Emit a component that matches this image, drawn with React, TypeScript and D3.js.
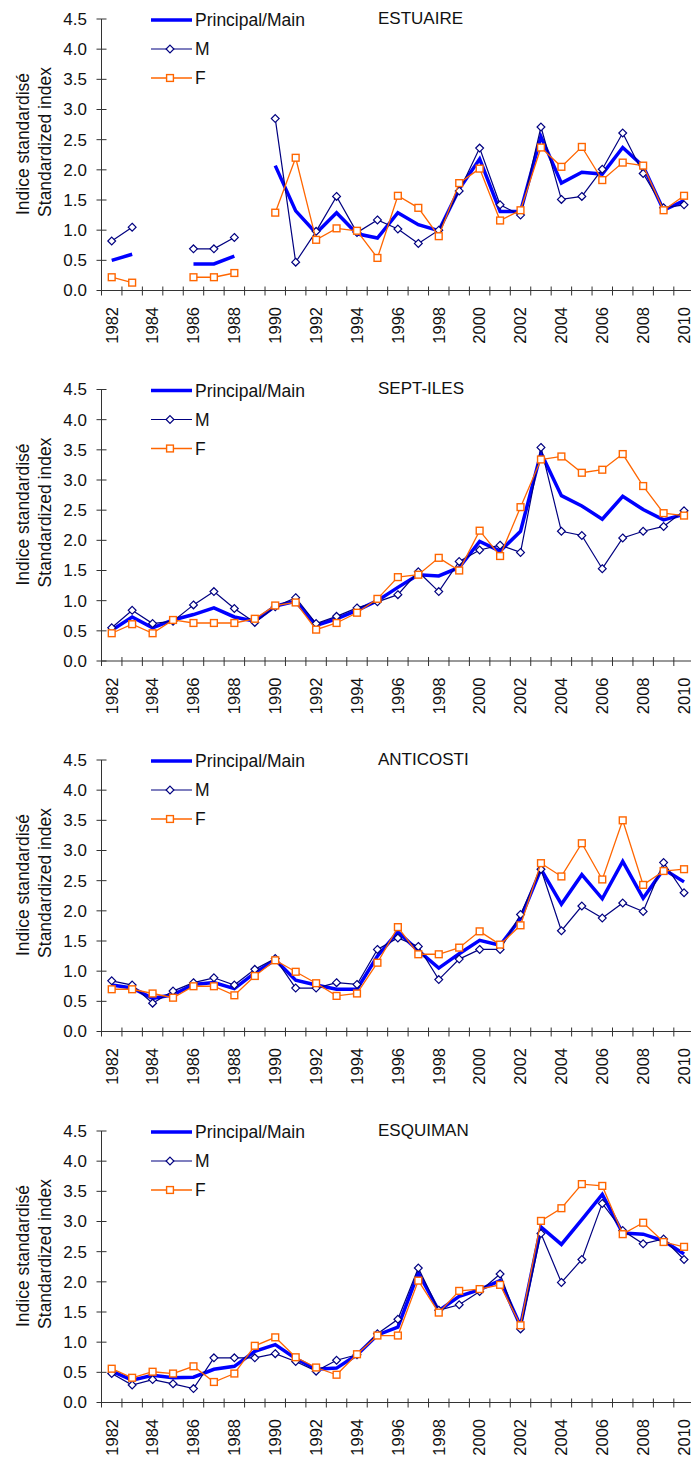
import React from "react";
import * as d3 from "d3";

const years = [1982, 1983, 1984, 1985, 1986, 1987, 1988, 1989, 1990, 1991, 1992, 1993, 1994, 1995, 1996, 1997, 1998, 1999, 2000, 2001, 2002, 2003, 2004, 2005, 2006, 2007, 2008, 2009, 2010];
const yTicks = [0, 0.5, 1.0, 1.5, 2.0, 2.5, 3.0, 3.5, 4.0, 4.5];
const xLabelYears = [1982, 1984, 1986, 1988, 1990, 1992, 1994, 1996, 1998, 2000, 2002, 2004, 2006, 2008, 2010];
const legendLabels = ["Principal/Main", "M", "F"];
const yTitle = ["Indice standardisé", "Standardized index"];

type V = number | null;

// ESTUAIRE
const estMain: V[] = [0.50, 0.60, null, null, 0.44, 0.44, 0.57, null, 2.07, 1.32, 0.95, 1.29, 0.94, 0.87, 1.29, 1.09, 0.99, 1.68, 2.18, 1.31, 1.31, 2.55, 1.78, 1.96, 1.93, 2.37, 2.06, 1.33, 1.49];
const estM: V[] = [0.82, 1.05, null, null, 0.69, 0.69, 0.88, null, 2.85, 0.47, 0.98, 1.56, 0.96, 1.17, 1.02, 0.78, 1.00, 1.65, 2.36, 1.42, 1.25, 2.71, 1.51, 1.56, 2.01, 2.61, 1.94, 1.37, 1.42];
const estF: V[] = [0.22, 0.13, null, null, 0.22, 0.22, 0.29, null, 1.29, 2.20, 0.84, 1.03, 0.99, 0.54, 1.57, 1.37, 0.90, 1.78, 2.02, 1.16, 1.33, 2.37, 2.05, 2.38, 1.83, 2.12, 2.07, 1.33, 1.57];

// SEPT-ILES
const sepMain: V[] = [0.51, 0.73, 0.55, 0.68, 0.77, 0.88, 0.73, 0.66, 0.91, 0.99, 0.59, 0.70, 0.84, 1.00, 1.22, 1.43, 1.41, 1.55, 1.98, 1.82, 2.15, 3.45, 2.74, 2.57, 2.35, 2.73, 2.51, 2.34, 2.43];
const sepM: V[] = [0.55, 0.84, 0.62, 0.66, 0.93, 1.15, 0.87, 0.64, 0.90, 1.05, 0.62, 0.74, 0.88, 0.98, 1.10, 1.48, 1.15, 1.65, 1.84, 1.92, 1.80, 3.54, 2.15, 2.08, 1.53, 2.04, 2.15, 2.23, 2.49];
const sepF: V[] = [0.46, 0.61, 0.46, 0.68, 0.63, 0.63, 0.63, 0.70, 0.92, 0.97, 0.52, 0.63, 0.80, 1.03, 1.39, 1.43, 1.71, 1.50, 2.16, 1.74, 2.55, 3.34, 3.39, 3.12, 3.17, 3.43, 2.90, 2.45, 2.41];

// ANTICOSTI
const antMain: V[] = [0.77, 0.72, 0.55, 0.61, 0.78, 0.81, 0.71, 0.97, 1.19, 0.85, 0.77, 0.70, 0.70, 1.25, 1.65, 1.34, 1.05, 1.29, 1.51, 1.43, 1.87, 2.69, 2.11, 2.60, 2.20, 2.82, 2.21, 2.69, 2.48];
const antM: V[] = [0.84, 0.77, 0.47, 0.67, 0.81, 0.89, 0.77, 1.03, 1.21, 0.72, 0.72, 0.81, 0.78, 1.36, 1.55, 1.41, 0.86, 1.20, 1.36, 1.36, 1.94, 2.69, 1.67, 2.08, 1.88, 2.13, 1.99, 2.80, 2.30];
const antF: V[] = [0.70, 0.70, 0.63, 0.56, 0.75, 0.75, 0.60, 0.92, 1.18, 0.99, 0.80, 0.59, 0.63, 1.14, 1.73, 1.28, 1.28, 1.39, 1.66, 1.44, 1.76, 2.79, 2.57, 3.12, 2.52, 3.50, 2.43, 2.66, 2.69];

// ESQUIMAN
const esqMain: V[] = [0.52, 0.37, 0.45, 0.41, 0.42, 0.55, 0.60, 0.85, 0.96, 0.73, 0.55, 0.57, 0.79, 1.12, 1.25, 2.15, 1.52, 1.76, 1.87, 2.02, 1.27, 2.91, 2.62, 3.03, 3.45, 2.81, 2.79, 2.68, 2.46];
const esqM: V[] = [0.48, 0.29, 0.38, 0.31, 0.23, 0.74, 0.74, 0.74, 0.81, 0.68, 0.52, 0.70, 0.79, 1.14, 1.38, 2.23, 1.53, 1.62, 1.84, 2.13, 1.22, 2.80, 1.99, 2.37, 3.30, 2.85, 2.63, 2.71, 2.37];
const esqF: V[] = [0.56, 0.41, 0.51, 0.48, 0.60, 0.34, 0.48, 0.94, 1.08, 0.75, 0.58, 0.46, 0.80, 1.11, 1.11, 2.02, 1.49, 1.85, 1.88, 1.95, 1.28, 3.01, 3.22, 3.62, 3.59, 2.79, 2.98, 2.66, 2.58];

const panelTitles = ["ESTUAIRE", "SEPT-ILES", "ANTICOSTI", "ESQUIMAN"];
const panelSeries = [
  [estMain, estM, estF],
  [sepMain, sepM, sepF],
  [antMain, antM, antF],
  [esqMain, esqM, esqF],
];

const W = 691;
const H = 1460;
const FONT = "'Liberation Sans', Arial, Helvetica, sans-serif";
const MAIN_C = "#0000FF";
const M_C = "#000080";
const F_C = "#FF6600";
const AXIS_C = "#333";
const panelTops = [19, 389.5, 760, 1131];
const plotH = 271.5;
const x0 = 101.5;
const step = 20.44;

const x = d3
  .scaleBand<string>()
  .domain(years.map(String))
  .range([x0, x0 + step * years.length])
  .padding(0);
const cx = (yr: number) => (x(String(yr)) as number) + x.bandwidth() / 2;

function diamond(px: number, py: number, r: number) {
  return `M${px},${py - r}L${px + r},${py}L${px},${py + r}L${px - r},${py}Z`;
}

function Panel({ idx }: { idx: number }) {
  const top = panelTops[idx];
  const bottom = top + plotH;
  const y = d3.scaleLinear().domain([0, 4.5]).range([bottom, top]);
  const [main, m, f] = panelSeries[idx];
  const line = d3
    .line<V>()
    .defined((d) => d != null)
    .x((_, i) => cx(years[i]))
    .y((d) => y(d as number));
  const fmt = d3.format(".1f");
  const bandEdges = years.map((yr) => x(String(yr)) as number).concat([x0 + step * years.length]);

  const legX1 = 151;
  const legX2 = 192;
  const legMid = 170;
  const legYs = [top + 1, top + 30, top + 59];

  return (
    <g>
      {/* y axis */}
      <line x1={x0} x2={x0} y1={top} y2={bottom} stroke={AXIS_C} strokeWidth={1} />
      {yTicks.map((t) => (
        <g key={t}>
          <line x1={x0 - 5} x2={x0 + 5} y1={y(t)} y2={y(t)} stroke={AXIS_C} strokeWidth={1} />
          <text x={87} y={y(t)} dy="0.35em" textAnchor="end" fontSize={17} fontFamily={FONT} fill="#111">
            {fmt(t)}
          </text>
        </g>
      ))}
      {/* x axis */}
      <line x1={x0} x2={x0 + step * years.length} y1={bottom} y2={bottom} stroke={AXIS_C} strokeWidth={1} />
      {bandEdges.map((bx, i) => (
        <line key={i} x1={bx} x2={bx} y1={bottom - 4} y2={bottom + 5} stroke={AXIS_C} strokeWidth={1} />
      ))}
      {xLabelYears.map((yr) => (
        <text
          key={yr}
          transform={`translate(${cx(yr)},${bottom + 16.5}) rotate(-90)`}
          dy="0.35em"
          textAnchor="end"
          fontSize={16.5}
          fontFamily={FONT}
          fill="#111"
        >
          {yr}
        </text>
      ))}
      {/* y title */}
      <text transform={`translate(23,${top + 125}) rotate(-90)`} dy="0.35em" textAnchor="middle" fontSize={17.5} fontFamily={FONT} fill="#111">
        {yTitle[0]}
      </text>
      <text transform={`translate(45,${top + 123}) rotate(-90)`} dy="0.35em" textAnchor="middle" fontSize={17.5} fontFamily={FONT} fill="#111">
        {yTitle[1]}
      </text>
      {/* title */}
      <text x={378} y={top + 4.5} fontSize={17} fontFamily={FONT} fill="#111">
        {panelTitles[idx]}
      </text>
      {/* series */}
      <path d={line(main) || ""} fill="none" stroke={MAIN_C} strokeWidth={3.5} strokeLinejoin="miter" />
      <path d={line(m) || ""} fill="none" stroke={M_C} strokeWidth={1.2} />
      {m.map((v, i) =>
        v == null ? null : (
          <path key={"m" + i} d={diamond(cx(years[i]), y(v), 3.9)} fill="#fff" stroke={M_C} strokeWidth={1.2} />
        )
      )}
      <path d={line(f) || ""} fill="none" stroke={F_C} strokeWidth={1.3} />
      {f.map((v, i) =>
        v == null ? null : (
          <rect key={"f" + i} x={cx(years[i]) - 3.4} y={y(v) - 3.4} width={6.8} height={6.8} fill="#fff" stroke={F_C} strokeWidth={1.4} />
        )
      )}
      {/* legend */}
      <line x1={legX1} x2={legX2} y1={legYs[0]} y2={legYs[0]} stroke={MAIN_C} strokeWidth={3.5} />
      <line x1={legX1} x2={legX2} y1={legYs[1]} y2={legYs[1]} stroke={M_C} strokeWidth={1.2} />
      <path d={diamond(legMid, legYs[1], 3.9)} fill="#fff" stroke={M_C} strokeWidth={1.2} />
      <line x1={legX1} x2={legX2} y1={legYs[2]} y2={legYs[2]} stroke={F_C} strokeWidth={1.3} />
      <rect x={legMid - 3.4} y={legYs[2] - 3.4} width={6.8} height={6.8} fill="#fff" stroke={F_C} strokeWidth={1.4} />
      {legendLabels.map((lab, i) => (
        <text key={lab} x={195} y={legYs[i]} dy="0.35em" fontSize={17.5} fontFamily={FONT} fill="#111">
          {lab}
        </text>
      ))}
    </g>
  );
}

export default function App() {
  return (
    <svg
      width={W}
      height={H}
      viewBox={`0 0 ${W} ${H}`}
      style={{ position: "absolute", left: 0, top: 0, background: "#fff" }}
    >
      <rect x={0} y={0} width={W} height={H} fill="#fff" />
      {panelTitles.map((_, i) => (
        <Panel key={i} idx={i} />
      ))}
    </svg>
  );
}
